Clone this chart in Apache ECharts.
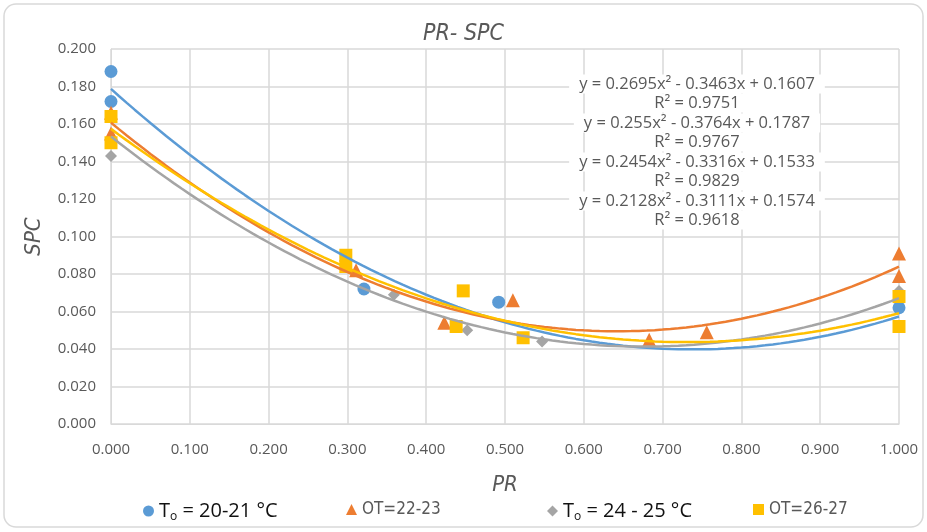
<!DOCTYPE html>
<html lang="en">
<head>
  <meta charset="UTF-8">
  <title>PR- SPC</title>
  <style>
    body { margin: 0; padding: 0; background: #fff; }
    #chart { width: 927px; height: 532px; }
  </style>
</head>
<body>
  <div id="chart"></div>
  <script src="https://cdn.jsdelivr.net/npm/echarts@6.0.0/dist/echarts.min.js"></script>
  <script>
    // 数据
    const blueX = [0, 0, 0.321, 0.492, 1];
    const blueY = [0.188, 0.172, 0.072, 0.065, 0.062];
    const orangeX = [0, 0, 0.311, 0.423, 0.510, 0.683, 0.756, 1, 1];
    const orangeY = [0.166, 0.155, 0.082, 0.054, 0.066, 0.045, 0.049, 0.091, 0.079];
    const grayX = [0, 0.359, 0.452, 0.547, 1];
    const grayY = [0.143, 0.069, 0.050, 0.044, 0.071];
    const yellowX = [0, 0, 0.298, 0.298, 0.438, 0.447, 0.523, 1, 1];
    const yellowY = [0.164, 0.150, 0.090, 0.084, 0.052, 0.071, 0.046, 0.068, 0.052];

    // 趋势线系数 [a, b, c]  y = a x^2 + b x + c
    const blueFit = [0.255, -0.3764, 0.1787];
    const orangeFit = [0.2695, -0.3463, 0.1607];
    const grayFit = [0.2454, -0.3316, 0.1533];
    const yellowFit = [0.2128, -0.3111, 0.1574];

    const eqLines = [
      'y = 0.2695x² - 0.3463x + 0.1607', 'R² = 0.9751',
      'y = 0.255x² - 0.3764x + 0.1787', 'R² = 0.9767',
      'y = 0.2454x² - 0.3316x + 0.1533', 'R² = 0.9829',
      'y = 0.2128x² - 0.3111x + 0.1574', 'R² = 0.9618'
    ];

    const names = ['To = 20-21 °C', 'OT=22-23', 'To = 24 - 25 °C', 'OT=26-27'];
    const colors = ['#5b9bd5', '#ed7d31', '#a5a5a5', '#ffc000'];

    const font = "'Open Sans', sans-serif";
    const narrow = "'DejaVu Sans Condensed', 'Liberation Sans Narrow', 'Open Sans', sans-serif";

    function pairs(xs, ys) {
      return xs.map((x, i) => [x, ys[i]]);
    }
    function curve(c) {
      const pts = [];
      for (let i = 0; i <= 100; i++) {
        const x = i / 100;
        pts.push([x, c[0] * x * x + c[1] * x + c[2]]);
      }
      return pts;
    }

    const chart = echarts.init(document.getElementById('chart'));

    const scatter = (name, data, symbol, size, color) => ({
      name: name, type: 'scatter', data: data, symbol: symbol, symbolSize: size,
      itemStyle: { color: color, opacity: 1 }, z: 3
    });
    const trend = (data, color) => ({
      type: 'line', data: data, showSymbol: false, symbol: 'none',
      lineStyle: { color: color, width: 2.5 }, z: 4, silent: true
    });

    const bigLegend = {
      fontFamily: font, fontSize: 20, color: '#111',
      rich: {
        a: { fontFamily: font, fontSize: 20, color: '#111' },
        s: { fontFamily: font, fontSize: 12, color: '#111', verticalAlign: 'bottom', padding: [12, 0, 0, 0] }
      }
    };
    const smallLegend = { fontFamily: narrow, fontSize: 17, color: '#595959' };
    const subFmt = (n) => n.startsWith('To') ? '{a|T}{s|o}{a|' + n.slice(2) + '}' : n;

    const legendAt = (i, left, style) => ({
      data: [names[i]], left: left, top: 496, itemWidth: 11, itemHeight: 11,
      itemGap: 4, textStyle: style, formatter: subFmt, selectedMode: false
    });

    const eqGraphics = eqLines.map((t, i) => ({
      type: 'text',
      style: {
        text: t, x: 697, y: 84 + Math.floor(i / 2) * 39 + (i % 2) * 19,
        align: 'center', verticalAlign: 'middle',
        font: "16.5px " + font, fill: '#595959',
        backgroundColor: '#fff', padding: [1, 10]
      },
      z: 10
    }));

    const option = {
      animation: false,
      color: colors,
      title: {
        text: 'PR- SPC', left: 'center', top: 18,
        textStyle: { fontFamily: narrow, fontSize: 23, fontStyle: 'italic', fontWeight: 'normal', color: '#595959' }
      },
      grid: { left: 111, right: 28, top: 49, bottom: 108 },
      xAxis: {
        type: 'value', min: 0, max: 1, interval: 0.1,
        name: 'PR', nameLocation: 'middle', nameGap: 50,
        nameTextStyle: { fontFamily: narrow, fontSize: 22, fontStyle: 'italic', color: '#595959' },
        axisLine: { show: true, lineStyle: { color: '#d9d9d9' } },
        axisTick: { show: false },
        axisLabel: { formatter: v => v.toFixed(3), fontFamily: font, fontSize: 15, color: '#595959', margin: 18 },
        splitLine: { show: true, lineStyle: { color: '#d9d9d9', width: 1.5 } }
      },
      yAxis: {
        type: 'value', min: 0, max: 0.2, interval: 0.02,
        name: 'SPC', nameLocation: 'middle', nameGap: 66, nameRotate: 90,
        nameTextStyle: { fontFamily: narrow, fontSize: 22, fontStyle: 'italic', color: '#595959' },
        axisLine: { show: true, lineStyle: { color: '#d9d9d9' } },
        axisTick: { show: false },
        axisLabel: { formatter: v => v.toFixed(3), fontFamily: font, fontSize: 15, color: '#595959', margin: 15 },
        splitLine: { show: true, lineStyle: { color: '#d9d9d9', width: 1.5 } }
      },
      legend: [
        legendAt(0, 138, bigLegend),
        legendAt(1, 341, smallLegend),
        legendAt(2, 542, bigLegend),
        legendAt(3, 748, smallLegend)
      ],
      graphic: [
        {
          type: 'rect', shape: { x: 4, y: 4, width: 919, height: 523, r: 12 },
          style: { fill: 'none', stroke: '#d9d9d9', lineWidth: 1.5 }, z: -1, silent: true
        }
      ].concat(eqGraphics),
      series: [
        scatter(names[0], pairs(blueX, blueY), 'circle', 13, colors[0]),
        scatter(names[1], pairs(orangeX, orangeY), 'triangle', 14, colors[1]),
        scatter(names[2], pairs(grayX, grayY), 'diamond', 12, colors[2]),
        scatter(names[3], pairs(yellowX, yellowY), 'rect', 13, colors[3]),
        trend(curve(blueFit), colors[0]),
        trend(curve(orangeFit), colors[1]),
        trend(curve(grayFit), colors[2]),
        trend(curve(yellowFit), colors[3])
      ]
    };

    chart.setOption(option);
  </script>
</body>
</html>
